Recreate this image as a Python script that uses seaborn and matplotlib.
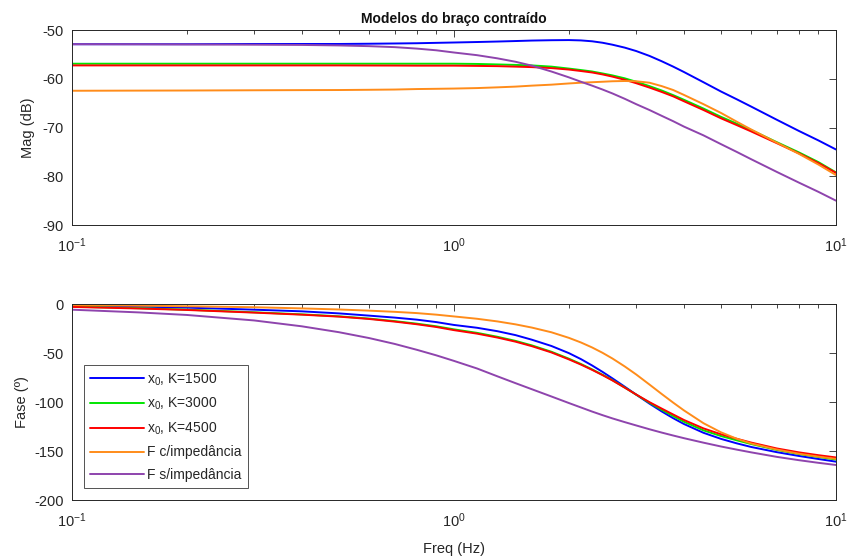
import numpy as np
import pandas as pd
import matplotlib
matplotlib.use("Agg")
import matplotlib.pyplot as plt
import seaborn as sns
from matplotlib.ticker import LogLocator, LogFormatterSciNotation, MultipleLocator

# Frequency grid (Hz)
freq = [0.1, 0.15, 0.2, 0.3, 0.4, 0.5, 0.6, 0.7, 0.8, 0.9, 1.0, 1.15, 1.3, 1.45,
        1.6, 1.8, 2.0, 2.15, 2.3, 2.45, 2.6, 2.8, 3.0, 3.25, 3.5, 3.75, 4.0, 4.5,
        5.0, 5.5, 6.0, 7.0, 8.0, 9.0, 10.0]

labels = [r"x$_0$, K=1500", r"x$_0$, K=3000", r"x$_0$, K=4500",
          "F c/impedância", "F s/impedância"]
colors = ["#0000ff", "#00e600", "#ff0000", "#ff8c1a", "#8e44ad"]

# Magnitude (dB)
mag_k1500 = [-52.9, -52.9, -52.9, -52.85, -52.85, -52.85, -52.8, -52.75, -52.7, -52.62,
             -52.55, -52.45, -52.35, -52.25, -52.15, -52.08, -52.05, -52.12, -52.3, -52.6,
             -53.0, -53.6, -54.3, -55.3, -56.4, -57.5, -58.6, -60.7, -62.6, -64.2,
             -65.7, -68.4, -70.7, -72.65, -74.5]
mag_k3000 = [-56.9, -56.9, -56.9, -56.9, -56.9, -56.9, -56.9, -56.9, -56.9, -56.9,
             -56.9, -56.95, -57.05, -57.15, -57.25, -57.5, -57.9, -58.2, -58.5, -58.9,
             -59.3, -59.9, -60.6, -61.5, -62.4, -63.35, -64.3, -66.1, -67.8, -69.2,
             -70.5, -73.0, -75.1, -77.1, -79.2]
mag_k4500 = [-57.25, -57.25, -57.25, -57.25, -57.25, -57.25, -57.27, -57.28, -57.3, -57.3,
             -57.3, -57.35, -57.4, -57.5, -57.6, -57.8, -58.1, -58.4, -58.7, -59.1,
             -59.55, -60.2, -60.9, -61.8, -62.7, -63.6, -64.6, -66.4, -68.1, -69.5,
             -70.8, -73.2, -75.3, -77.3, -79.3]
mag_com_imp = [-62.45, -62.42, -62.4, -62.35, -62.32, -62.3, -62.25, -62.2, -62.1, -62.05,
               -62.0, -61.9, -61.75, -61.6, -61.4, -61.2, -60.95, -60.8, -60.7, -60.6,
               -60.5, -60.45, -60.5, -60.8, -61.5, -62.3, -63.3, -65.2, -67.0, -68.8,
               -70.4, -73.1, -75.4, -77.6, -79.75]
mag_sem_imp = [-52.9, -52.92, -52.95, -53.0, -53.05, -53.15, -53.3, -53.5, -53.8, -54.15,
               -54.6, -55.15, -55.8, -56.5, -57.3, -58.5, -59.7, -60.6, -61.4, -62.2,
               -63.0, -64.1, -65.2, -66.4, -67.6, -68.7, -69.8, -71.6, -73.4, -75.0,
               -76.5, -79.1, -81.3, -83.2, -85.0]

# Phase (degrees)
fase_k1500 = [-1.4, -2.4, -3.4, -5.5, -7.2, -9.3, -11.6, -13.6, -15.7, -18.2,
              -21.1, -24.0, -27.5, -31.5, -36.2, -42.6, -49.9, -56.0, -62.5, -69.1,
              -75.7, -84.2, -92.3, -101.5, -109.5, -116.4, -122.3, -131.3, -137.5, -142.1,
              -145.8, -151.1, -155.0, -158.1, -160.8]
fase_k3000 = [-2.4, -4.0, -5.5, -8.2, -10.3, -12.3, -14.6, -17.2, -19.8, -22.5,
              -25.6, -29.2, -33.2, -37.4, -42.0, -48.5, -55.6, -61.0, -66.5, -72.0,
              -77.5, -85.0, -92.3, -100.6, -107.8, -114.2, -120.0, -128.8, -134.6, -139.0,
              -142.8, -148.8, -153.0, -156.0, -158.6]
fase_k4500 = [-2.7, -4.3, -5.8, -8.5, -10.6, -12.6, -15.0, -17.7, -20.4, -23.2,
              -26.4, -30.0, -34.0, -38.2, -42.8, -49.2, -56.3, -61.6, -67.0, -72.4,
              -77.8, -85.2, -92.2, -100.0, -106.6, -112.6, -118.2, -126.8, -132.8, -137.4,
              -141.3, -147.3, -151.3, -154.2, -156.5]
fase_com_imp = [-0.7, -1.4, -2.0, -3.0, -4.2, -5.3, -6.5, -7.7, -9.0, -10.6,
                -12.4, -14.8, -17.5, -20.5, -23.8, -28.6, -34.3, -39.0, -44.1, -49.6,
                -55.4, -63.5, -71.7, -82.0, -91.7, -100.5, -108.4, -121.5, -130.8, -137.4,
                -142.2, -148.4, -152.7, -155.7, -158.0]
fase_sem_imp = [-5.5, -8.3, -10.9, -16.5, -22.5, -28.5, -34.5, -40.5, -46.5, -52.2,
                -57.8, -65.6, -73.6, -80.6, -86.8, -94.2, -100.9, -105.4, -109.6, -113.3,
                -116.6, -120.4, -123.8, -127.7, -131.1, -134.1, -136.8, -141.4, -145.3, -148.5,
                -151.3, -155.9, -159.3, -162.0, -164.2]

mags = [mag_k1500, mag_k3000, mag_k4500, mag_com_imp, mag_sem_imp]
fases = [fase_k1500, fase_k3000, fase_k4500, fase_com_imp, fase_sem_imp]

df = pd.concat([
    pd.DataFrame({"freq": freq, "mag": m, "fase": p, "modelo": lab})
    for lab, m, p in zip(labels, mags, fases)
], ignore_index=True)

sns.set_style("white")
plt.rcParams["font.family"] = ["Liberation Sans", "DejaVu Sans"]
plt.rcParams["axes.unicode_minus"] = False
plt.rcParams["mathtext.fontset"] = "custom"
plt.rcParams["mathtext.rm"] = "Liberation Sans"
plt.rcParams["mathtext.it"] = "Liberation Sans:italic"

fig = plt.figure(figsize=(8.5, 5.57), dpi=100)
ax1 = fig.add_axes([0.0844, 0.596, 0.8991, 0.350])
ax2 = fig.add_axes([0.0844, 0.1023, 0.8991, 0.3514])

palette = dict(zip(labels, colors))
sns.lineplot(data=df, x="freq", y="mag", hue="modelo", hue_order=labels,
             palette=palette, linewidth=1.4, ax=ax1, legend=False)
sns.lineplot(data=df, x="freq", y="fase", hue="modelo", hue_order=labels,
             palette=palette, linewidth=1.4, ax=ax2, legend=False)

edge = "#262626"
for ax in (ax1, ax2):
    ax.set_xscale("log")
    ax.set_xlim(0.1, 10)
    ax.xaxis.set_major_locator(LogLocator(base=10, numticks=10))
    ax.xaxis.set_minor_locator(LogLocator(base=10, subs=np.arange(2, 10), numticks=10))
    ax.xaxis.set_major_formatter(LogFormatterSciNotation())
    ax.tick_params(axis="both", which="both", direction="in", top=True, right=True,
                   colors=edge, labelcolor="#262626", labelsize=10.5)
    ax.tick_params(axis="x", which="both", pad=8)
    ax.tick_params(axis="y", which="both", pad=5.5)
    ax.tick_params(which="major", length=5, width=0.6)
    ax.tick_params(which="minor", length=3, width=0.6)
    for s in ax.spines.values():
        s.set_color(edge)
        s.set_linewidth(0.7)
    ax.set_xlabel("")

ax1.set_ylim(-90, -50)
ax1.yaxis.set_major_locator(MultipleLocator(10))
ax1.set_ylabel("Mag (dB)", fontsize=10.5, color="#262626", labelpad=6)
ax1.set_title("Modelos do braço contraído", fontsize=10, fontweight="bold",
              color="#111111", pad=5)

ax2.set_ylim(-200, 0)
ax2.yaxis.set_major_locator(MultipleLocator(50))
ax2.set_ylabel("Fase (º)", fontsize=10.5, color="#262626", labelpad=4)
ax2.set_xlabel("Freq (Hz)", fontsize=10.5, color="#262626", labelpad=9)

handles = [plt.Line2D([], [], color=c, lw=1.4) for c in colors]
leg = ax2.legend(handles, labels, loc="lower left", bbox_to_anchor=(0.016, 0.061),
                 borderaxespad=0, fontsize=10, frameon=True, fancybox=False,
                 edgecolor="#262626", handlelength=3.9, handletextpad=0.2,
                 labelspacing=0.6, borderpad=0.45)
leg.get_frame().set_linewidth(0.7)

fig.savefig("out.png", dpi=100)
